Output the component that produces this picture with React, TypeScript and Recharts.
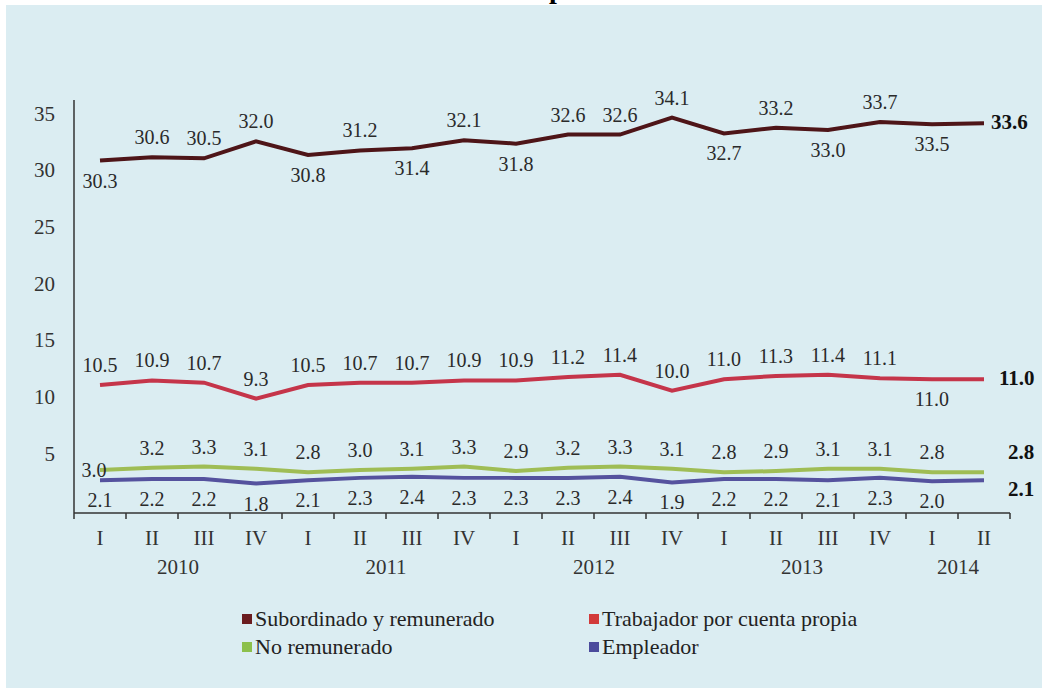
import React from "react";
import { LineChart, Line, XAxis, YAxis, LabelList } from "recharts";

// trimestres 2010-I a 2014-II
const QUARTERS = ["I", "II", "III", "IV", "I", "II", "III", "IV", "I", "II", "III", "IV", "I", "II", "III", "IV", "I", "II"];
const YEARS = ["2010", "2010", "2010", "2010", "2011", "2011", "2011", "2011", "2012", "2012", "2012", "2012", "2013", "2013", "2013", "2013", "2014", "2014"];

const SUBORDINADO = [30.3, 30.6, 30.5, 32.0, 30.8, 31.2, 31.4, 32.1, 31.8, 32.6, 32.6, 34.1, 32.7, 33.2, 33.0, 33.7, 33.5, 33.6];
const CUENTA_PROPIA = [10.5, 10.9, 10.7, 9.3, 10.5, 10.7, 10.7, 10.9, 10.9, 11.2, 11.4, 10.0, 11.0, 11.3, 11.4, 11.1, 11.0, 11.0];
const NO_REMUNERADO = [3.0, 3.2, 3.3, 3.1, 2.8, 3.0, 3.1, 3.3, 2.9, 3.2, 3.3, 3.1, 2.8, 2.9, 3.1, 3.1, 2.8, 2.8];
const EMPLEADOR = [2.1, 2.2, 2.2, 1.8, 2.1, 2.3, 2.4, 2.3, 2.3, 2.3, 2.4, 1.9, 2.2, 2.2, 2.1, 2.3, 2.0, 2.1];

const Y_TICKS = [5, 10, 15, 20, 25, 30, 35];

// lado de la etiqueta: t = arriba, b = abajo, l = izquierda, e = final (negrita)
const SIDES_SUB = "btttbtbtbtttbtbtbe";
const SIDES_CP = "ttttttttttttttttbe";
const SIDES_NR = "ltttttttttttttttte";
const SIDES_EMP = "bbbbbbbbbbbbbbbbbe";

const FONT = "'Liberation Serif', 'DejaVu Serif', 'Times New Roman', serif";
const CHART_W = 1042;
const Y_AXIS_W = 74;
const RIGHT = 32;
const STEP = (CHART_W - Y_AXIS_W - RIGHT) / QUARTERS.length;

const data = QUARTERS.map((q, i) => ({
  q,
  sub: SUBORDINADO[i],
  cp: CUENTA_PROPIA[i],
  nr: NO_REMUNERADO[i],
  emp: EMPLEADOR[i],
}));

const SERIES = [
  { key: "sub", name: "Subordinado y remunerado", color: "#4e1518", swatch: "#6a1c1f", sides: SIDES_SUB, endDx: 7, endDy: 6 },
  { key: "cp", name: "Trabajador por cuenta propia", color: "#c5354a", swatch: "#d23a3a", sides: SIDES_CP, endDx: 15, endDy: 6 },
  { key: "nr", name: "No remunerado", color: "#9fbd55", swatch: "#8cc04c", sides: SIDES_NR, endDx: 24, endDy: -13 },
  { key: "emp", name: "Empleador", color: "#55529e", swatch: "#4b4b9c", sides: SIDES_EMP, endDx: 24, endDy: 16 },
];

const makeLabel = (sides: string, endDx: number, endDy: number) => (props: any) => {
  const { x, y, value, index } = props;
  const side = sides[index];
  const txt = Number(value).toFixed(1);
  if (side === "e") {
    return (
      <text x={x + endDx} y={y + endDy} style={{ fontFamily: FONT }} fontSize={21} fontWeight="bold" fill="#111">
        {txt}
      </text>
    );
  }
  if (side === "l") {
    return (
      <text x={x - 6} y={y + 7} textAnchor="middle" style={{ fontFamily: FONT }} fontSize={20} fill="#2a2a2a">
        {txt}
      </text>
    );
  }
  const ty = side === "t" ? y - 13 : y + 27;
  return (
    <text x={x} y={ty} textAnchor="middle" style={{ fontFamily: FONT }} fontSize={20} fill="#2a2a2a">
      {txt}
    </text>
  );
};

const QuarterTick = (props: any) => {
  const { x, y, payload } = props;
  const i = payload.index;
  const year = YEARS[i];
  const isFirst = i === 0 || YEARS[i - 1] !== year;
  const count = YEARS.filter((yy) => yy === year).length;
  return (
    <g>
      <line x1={x - STEP / 2} x2={x - STEP / 2} y1={y - 2} y2={y + 4} stroke="#333" strokeWidth={1.5} />
      {i === QUARTERS.length - 1 && (
        <line x1={x + STEP / 2} x2={x + STEP / 2} y1={y - 2} y2={y + 4} stroke="#333" strokeWidth={1.5} />
      )}
      <text x={x} y={y + 30} textAnchor="middle" style={{ fontFamily: FONT }} fontSize={21} fill="#333">
        {QUARTERS[i]}
      </text>
      {isFirst && (
        <text x={x + ((count - 1) * STEP) / 2} y={y + 59} textAnchor="middle" style={{ fontFamily: FONT }} fontSize={21} fill="#333">
          {year}
        </text>
      )}
    </g>
  );
};

const ValueTick = (props: any) => {
  const { x, y, payload } = props;
  return (
    <text x={x} y={y + 6} dy="0.35em" textAnchor="end" style={{ fontFamily: FONT }} fontSize={21} fill="#333">
      {payload.value}
    </text>
  );
};

export default function App() {
  return (
    <div style={{ position: "absolute", left: 0, top: 0, width: 1042, height: 688, overflow: "hidden", background: "#fff", fontFamily: FONT }}>
      <div style={{ position: "absolute", left: 549, top: -25, fontSize: 28, lineHeight: "28px", fontWeight: "bold" }}>p</div>
      <div style={{ position: "absolute", left: 6, top: 5, right: 0, bottom: 0, background: "#dbedf2" }} />
      <div style={{ position: "absolute", left: 0, top: 0 }}>
        <LineChart width={CHART_W} height={600} data={data} margin={{ top: 100, right: RIGHT, left: 0, bottom: 0 }}>
          <XAxis
            dataKey="q"
            height={87}
            interval={0}
            padding={{ left: STEP / 2, right: STEP / 2 }}
            tickSize={0}
            tickLine={false}
            axisLine={{ stroke: "#333", strokeWidth: 1.5 }}
            tick={<QuarterTick />}
          />
          <YAxis
            width={Y_AXIS_W}
            domain={[-0.8, 35.65]}
            ticks={Y_TICKS}
            tickSize={0}
            tickMargin={19}
            tickLine={false}
            axisLine={{ stroke: "#333", strokeWidth: 1.5 }}
            tick={<ValueTick />}
          />
          {SERIES.map((s) => (
            <Line
              key={s.key}
              dataKey={s.key}
              name={s.name}
              stroke={s.color}
              strokeWidth={4}
              dot={false}
              type="linear"
              isAnimationActive={false}
            >
              <LabelList dataKey={s.key} content={makeLabel(s.sides, s.endDx, s.endDy)} />
            </Line>
          ))}
        </LineChart>
      </div>
      <div
        style={{
          position: "absolute",
          left: 242,
          top: 607,
          display: "grid",
          gridTemplateColumns: "347px 300px",
          rowGap: 5,
          fontSize: 22,
          color: "#222",
        }}
      >
        {SERIES.map((s) => (
          <div key={s.key} style={{ display: "flex", alignItems: "center", lineHeight: "23px", whiteSpace: "nowrap" }}>
            <span style={{ display: "inline-block", width: 10, height: 10, background: s.swatch, marginRight: 3 }} />
            {s.name}
          </div>
        ))}
      </div>
    </div>
  );
}
